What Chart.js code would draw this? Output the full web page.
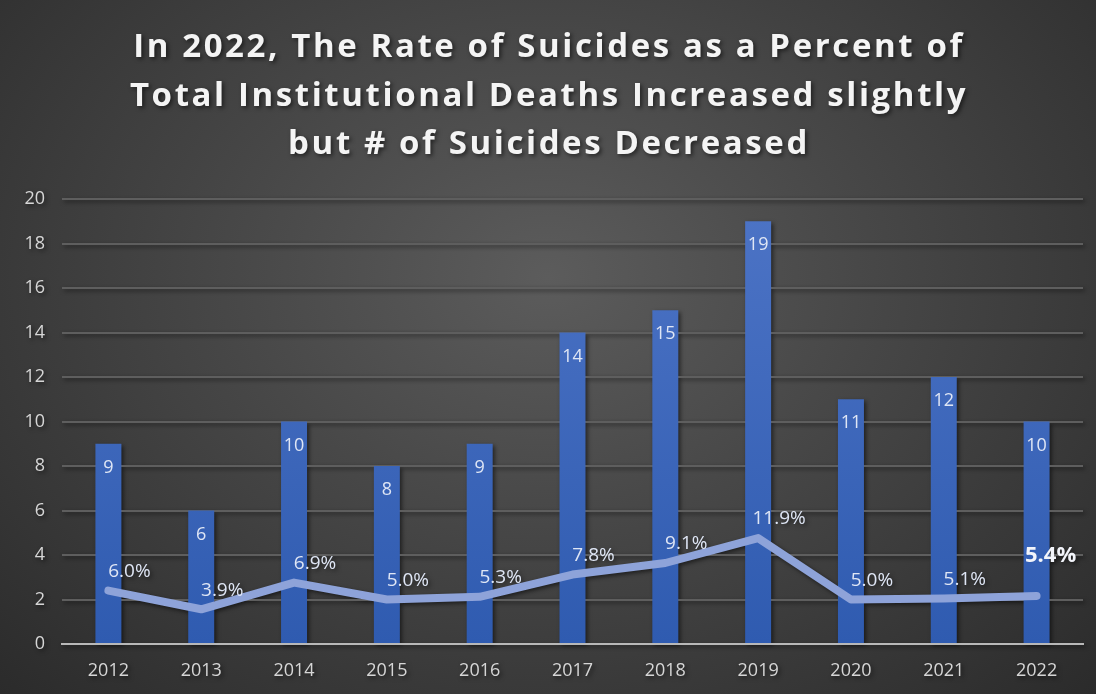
<!DOCTYPE html>
<html>
<head>
<meta charset="utf-8">
<script src="https://cdn.jsdelivr.net/npm/chart.js@4.4.1/dist/chart.umd.min.js"></script>
<style>
  html, body { margin: 0; padding: 0; }
  body {
    width: 1096px; height: 694px; overflow: hidden;
    background: radial-gradient(ellipse at 50% 40%, #5c5c5c 0%, #484848 40%, #2b2b2b 100%);
  }
  canvas { display: block; filter: drop-shadow(2px 2px 2px rgba(0,0,0,0.55)); }
</style>
</head>
<body>
<canvas id="chart" width="1096" height="694"></canvas>
<script>
// values
const years = ['2012', '2013', '2014', '2015', '2016', '2017', '2018', '2019', '2020', '2021', '2022'];
const suicides = [9, 6, 10, 8, 9, 14, 15, 19, 11, 12, 10];
const pctOfDeaths = [6.0, 3.9, 6.9, 5.0, 5.3, 7.8, 9.1, 11.9, 5.0, 5.1, 5.4];
const titleLines = [
  'In 2022, The Rate of Suicides as a Percent of',
  'Total Institutional Deaths Increased slightly',
  'but # of Suicides Decreased'
];

// title drawn by hand so it can get the wide letter spacing of the original
const spacedTitle = {
  id: 'spacedTitle',
  beforeDraw(chart) {
    const ctx = chart.ctx;
    ctx.save();
    ctx.fillStyle = '#f4f4f4';
    ctx.font = 'bold 33px "Open Sans"';
    ctx.letterSpacing = '2.6px';
    ctx.textAlign = 'center';
    ctx.textBaseline = 'middle';
    titleLines.forEach((line, i) => ctx.fillText(line, chart.width / 2 + 1, 48 + i * 48.5));
    ctx.restore();
  }
};

// value labels: inside bar tops, and above the line points
const valueLabels = {
  id: 'valueLabels',
  afterDatasetsDraw(chart) {
    const ctx = chart.ctx;
    ctx.save();
    ctx.textAlign = 'center';
    ctx.textBaseline = 'middle';
    chart.getDatasetMeta(1).data.forEach((bar, i) => {
      ctx.fillStyle = '#dfe6f5';
      ctx.font = '18px "Open Sans"';
      ctx.fillText(String(suicides[i]), bar.x, bar.y + 24);
    });
    const pts = chart.getDatasetMeta(0).data;
    pts.forEach((pt, i) => {
      const last = i === pts.length - 1;
      ctx.fillStyle = last ? '#f2f4fa' : '#dfe6f5';
      ctx.font = last ? 'bold 22px "Open Sans"' : '19px "Open Sans"';
      ctx.fillText(pctOfDeaths[i].toFixed(1) + '%', pt.x + (last ? 14 : 21), pt.y - (last ? 40 : 19));
    });
    ctx.restore();
  }
};

const ctx = document.getElementById('chart').getContext('2d');
new Chart(ctx, {
  data: {
    labels: years,
    datasets: [
      {
        type: 'line',
        label: '% of deaths',
        data: pctOfDeaths,
        yAxisID: 'yPct',
        borderColor: '#8ea3d9',
        borderWidth: 8,
        borderCapStyle: 'round',
        borderJoinStyle: 'round',
        pointRadius: 0,
        tension: 0,
        order: 0
      },
      {
        type: 'bar',
        label: 'Suicides',
        data: suicides,
        yAxisID: 'y',
        backgroundColor(c) {
          const area = c.chart.chartArea;
          if (!area) return '#3d67bd';
          const g = c.chart.ctx.createLinearGradient(0, area.top, 0, area.bottom);
          g.addColorStop(0, '#4d74c6');
          g.addColorStop(1, '#2f5bb0');
          return g;
        },
        barPercentage: 0.28,
        categoryPercentage: 1,
        order: 1
      }
    ]
  },
  options: {
    responsive: false,
    animation: false,
    layout: { padding: { left: 10, right: 13, top: 199, bottom: 12 } },
    plugins: {
      legend: { display: false },
      tooltip: { enabled: false },
      title: { display: false }
    },
    scales: {
      x: {
        grid: { display: false, drawTicks: false },
        border: { display: true, color: '#b8b8b8', width: 2 },
        ticks: { color: '#d6d6d6', font: { family: 'Open Sans', size: 18 }, padding: 16 },
        afterFit(scale) { scale.height = 38; }
      },
      y: {
        min: 0, max: 20,
        ticks: { stepSize: 2, color: '#d6d6d6', font: { family: 'Open Sans', size: 18 }, padding: 17 },
        grid: { color: '#5e5e5e', lineWidth: 2, drawTicks: false },
        border: { display: false },
        afterFit(scale) { scale.width = 52; }
      },
      yPct: {
        display: false,
        min: 0, max: 50
      }
    }
  },
  plugins: [spacedTitle, valueLabels]
});
</script>
</body>
</html>
